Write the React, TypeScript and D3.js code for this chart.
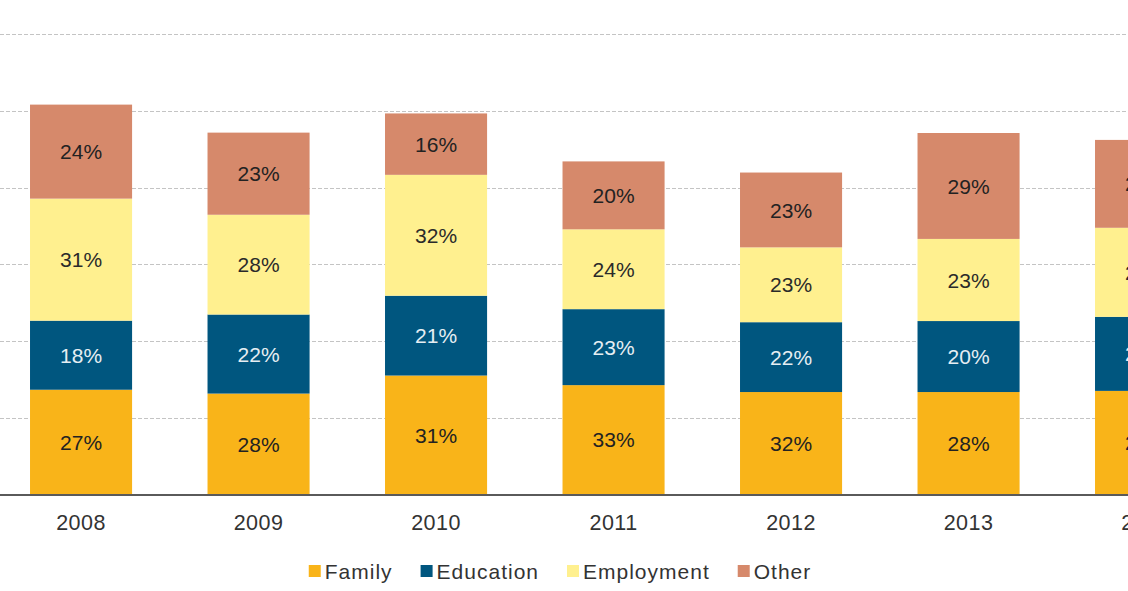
import * as d3 from 'd3';
import React, { useEffect, useRef } from 'react';

// values (grid step = 20 units)
const years = ['2008', '2009', '2010', '2011', '2012', '2013', '2014'];
const family = [27.3, 26.3, 31.0, 28.5, 26.7, 26.7, 27.0];
const education = [18.0, 20.6, 20.8, 19.8, 18.2, 18.5, 19.3];
const employment = [31.8, 26.0, 31.5, 20.8, 19.5, 21.4, 23.2];
const other = [24.5, 21.4, 16.0, 17.7, 19.5, 27.6, 22.9];
const gridTicks = [0, 20, 40, 60, 80, 100, 120];

const seriesNames = ['Family', 'Education', 'Employment', 'Other'];
const seriesColors = ['#f9b419', '#00567f', '#fff08f', '#d6896b'];
const labelColors = ['#222222', '#e6eef3', '#2a2a2a', '#222222'];

export default () => {
    const ref = useRef<any>();

    function draw(): void {
        const width = 1128;
        const height = 591;
        const font = '"Liberation Sans", Arial, sans-serif';

        const svg = d3
            .select<any, any>(ref.current)
            .attr('width', width)
            .attr('height', height);
        svg.selectAll('*').remove();

        const rows = years.map((y, i) => ({
            year: y,
            Family: family[i],
            Education: education[i],
            Employment: employment[i],
            Other: other[i],
        }));

        //X
        const xScale = d3.scaleBand()
            .domain(years)
            .range([-7.7, 1234.8])
            .paddingInner(0.425)
            .paddingOuter(0.2125);

        //Y
        const yScale = d3.scaleLinear()
            .domain([0, 120])
            .range([494.5, 34]);

        // grid
        svg.append('g')
            .selectAll('line')
            .data(gridTicks.slice(1))
            .join('line')
            .attr('x1', 0)
            .attr('x2', width)
            .attr('y1', (d: number) => Math.round(yScale(d)) + 0.5)
            .attr('y2', (d: number) => Math.round(yScale(d)) + 0.5)
            .attr('stroke', '#c4c4c4')
            .attr('stroke-width', 1)
            .attr('stroke-dasharray', '4,2');

        const stacked = d3.stack<any>().keys(seriesNames)(rows);

        const layers = svg.append('g')
            .selectAll('g')
            .data(stacked)
            .join('g')
            .attr('fill', (d: any, i: number) => seriesColors[i]);

        layers.selectAll('rect')
            .data((d: any) => d)
            .join('rect')
            .attr('x', (d: any) => xScale(d.data.year) as number)
            .attr('width', xScale.bandwidth())
            .attr('y', (d: any) => yScale(d[1]))
            .attr('height', (d: any) => yScale(d[0]) - yScale(d[1]));

        // percentage labels
        stacked.forEach((layer: any, li: number) => {
            svg.append('g')
                .selectAll('text')
                .data(layer)
                .join('text')
                .attr('x', (d: any) => (xScale(d.data.year) as number) + xScale.bandwidth() / 2)
                .attr('y', (d: any) => (yScale(d[0]) + yScale(d[1])) / 2)
                .attr('dy', '0.36em')
                .attr('text-anchor', 'middle')
                .attr('font-family', font)
                .attr('font-size', 21)
                .attr('fill', labelColors[li])
                .text((d: any) => {
                    const total = seriesNames.reduce((s, k) => s + d.data[k], 0);
                    return Math.round(((d[1] - d[0]) / total) * 100) + '%';
                });
        });

        // baseline
        svg.append('line')
            .attr('x1', 0)
            .attr('x2', width)
            .attr('y1', yScale(0) + 0.5)
            .attr('y2', yScale(0) + 0.5)
            .attr('stroke', '#5a5a5a')
            .attr('stroke-width', 2);

        // year labels
        svg.append('g')
            .selectAll('text')
            .data(years)
            .join('text')
            .attr('x', (d: string) => (xScale(d) as number) + xScale.bandwidth() / 2)
            .attr('y', 530)
            .attr('text-anchor', 'middle')
            .attr('font-family', font)
            .attr('font-size', 21.5)
            .attr('letter-spacing', 0.5)
            .attr('fill', '#333')
            .text((d: string) => d);

        // legend
        const legend = svg.append('g');
        const items = legend.selectAll('g')
            .data(seriesNames)
            .join('g');
        items.append('rect')
            .attr('y', 565)
            .attr('width', 12)
            .attr('height', 12)
            .attr('fill', (d: string, i: number) => seriesColors[i]);
        items.append('text')
            .attr('x', 16)
            .attr('y', 579)
            .attr('font-family', font)
            .attr('font-size', 21)
            .attr('letter-spacing', 1)
            .attr('fill', '#333')
            .text((d: string) => d);

        let cursor = 0;
        items.each(function () {
            const g = d3.select(this);
            g.attr('transform', `translate(${cursor},0)`);
            const w = (g.select('text').node() as any).getComputedTextLength();
            cursor += 16 + w + 28;
        });
        const legendWidth = cursor - 28;
        legend.attr('transform', `translate(${560 - legendWidth / 2},0)`);
    };

    useEffect(() => {
        draw();
    });

    return (
        <svg ref={ref} style={{ position: 'absolute', left: 0, top: 0, background: '#fff' }}></svg>
    )
}
